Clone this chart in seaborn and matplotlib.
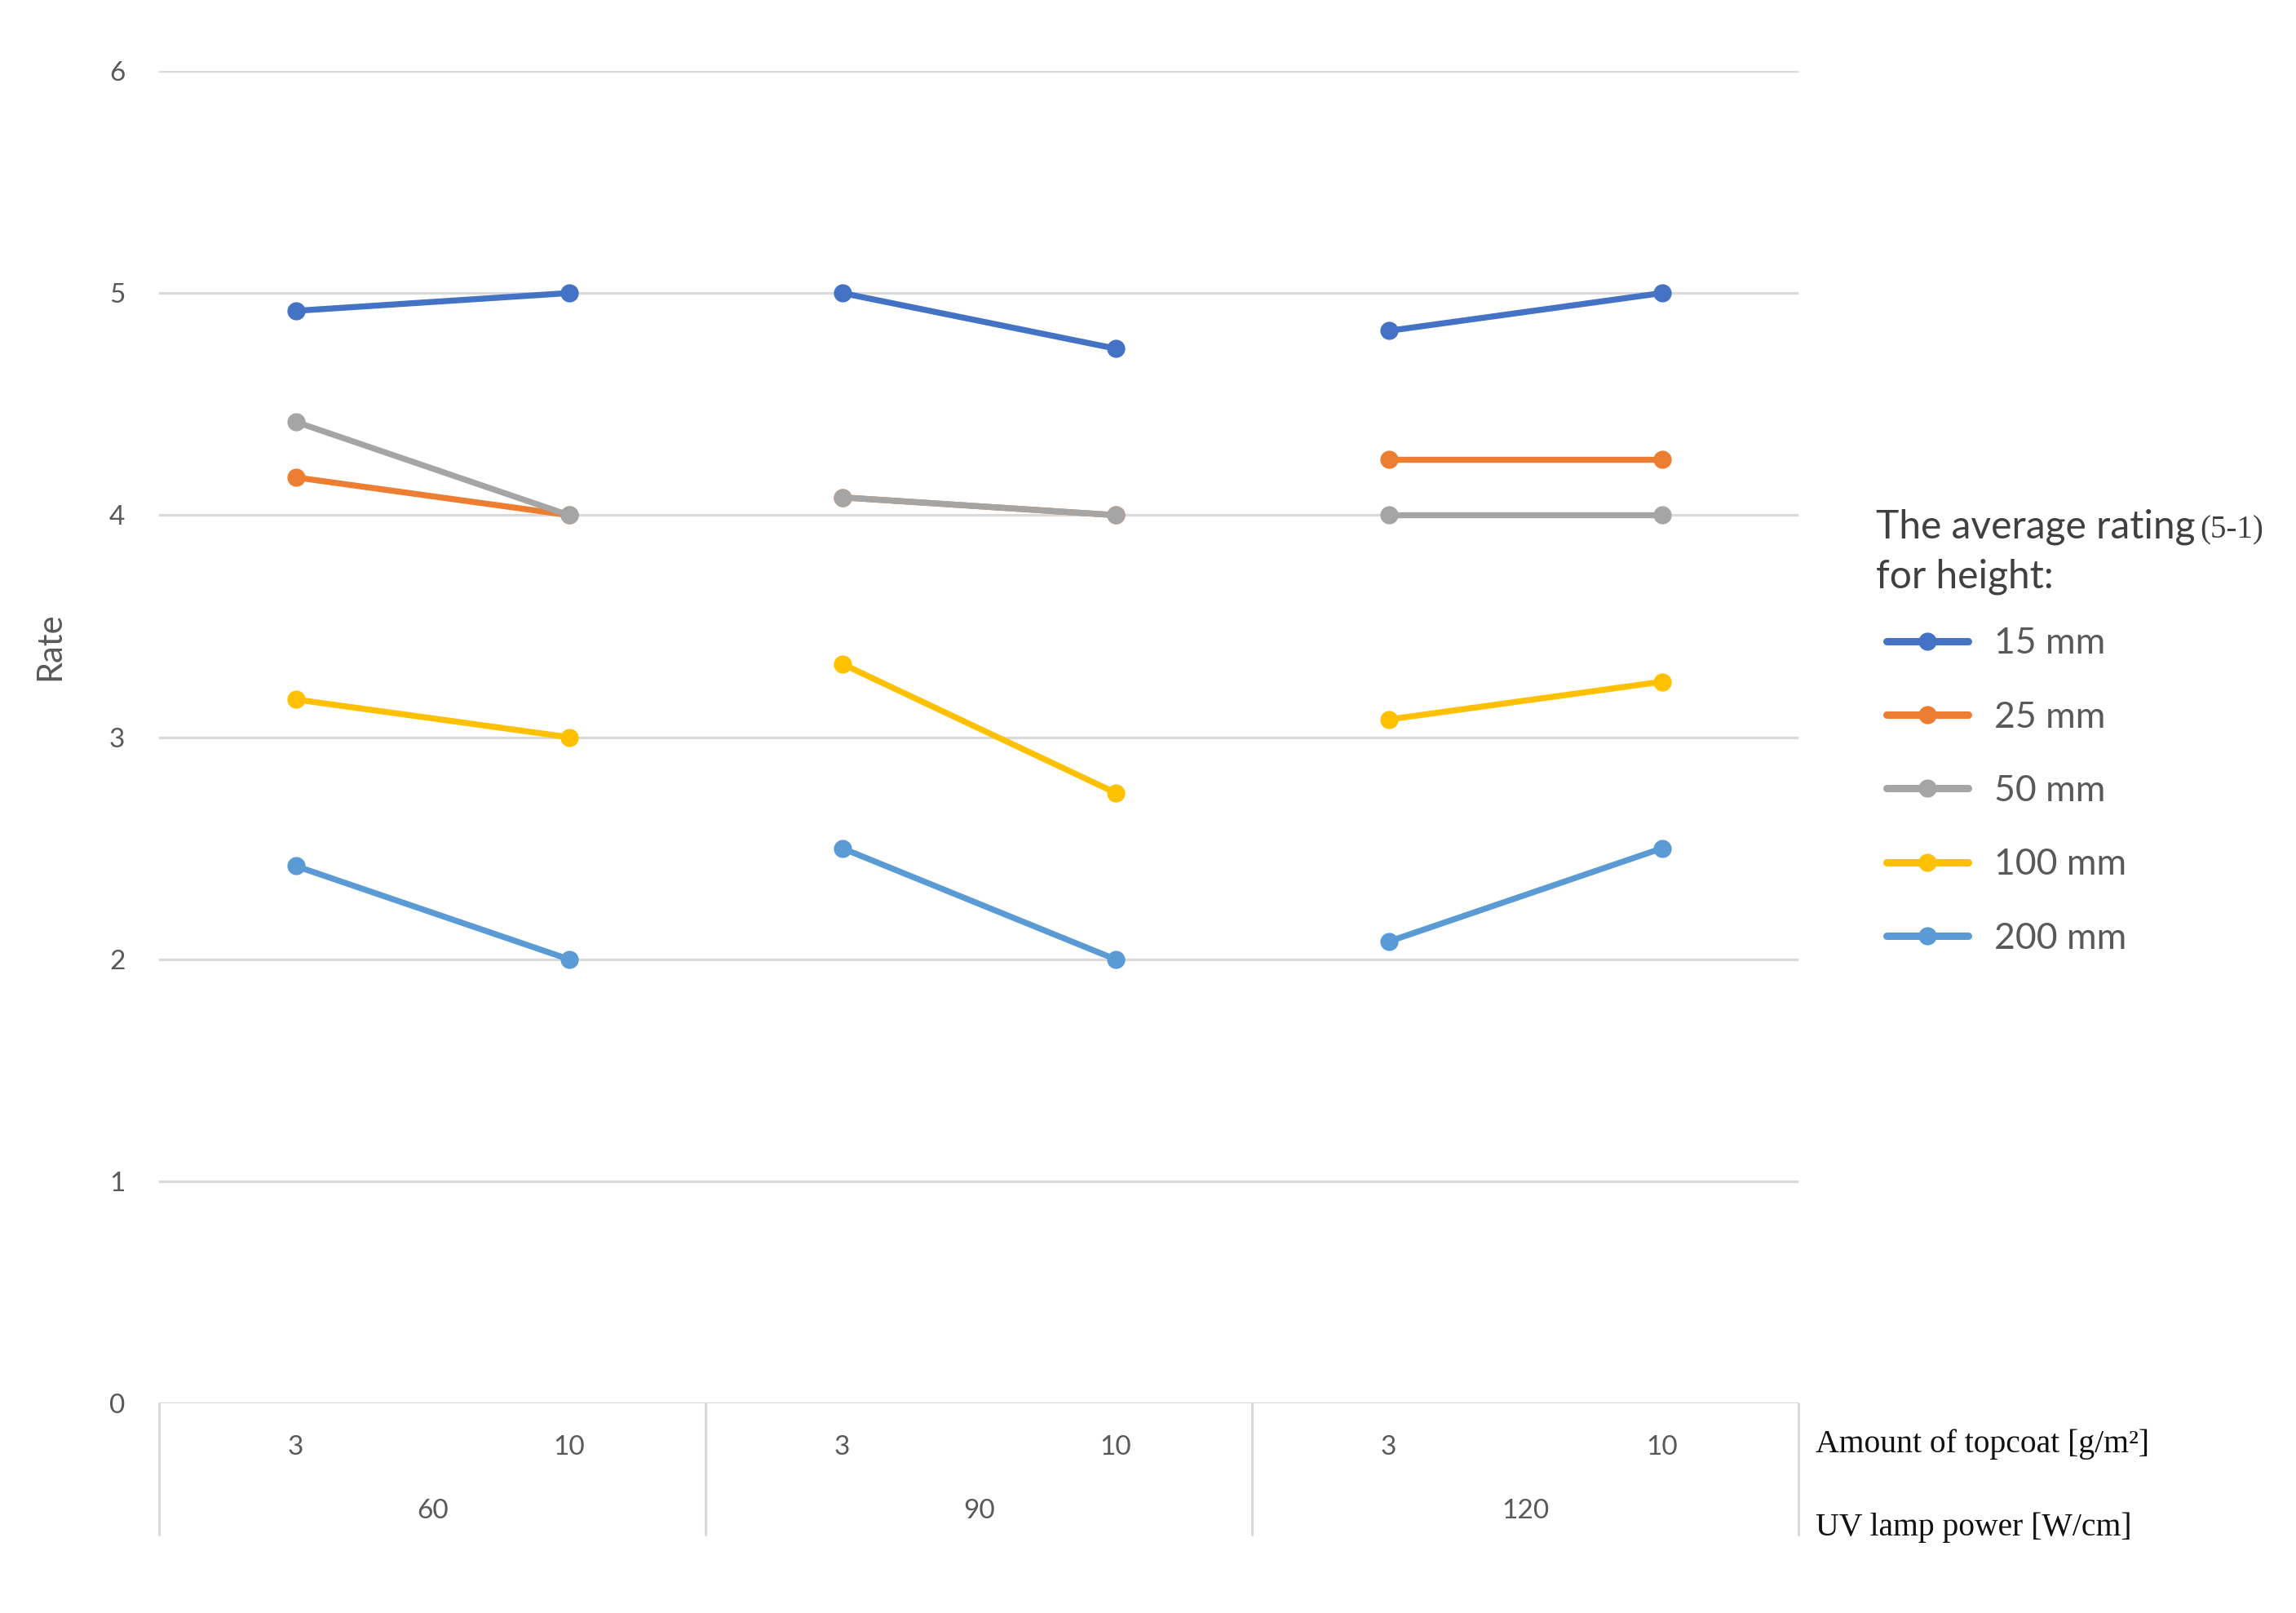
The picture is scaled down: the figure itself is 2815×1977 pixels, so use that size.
import pandas as pd
import matplotlib
matplotlib.use("Agg")
import matplotlib.pyplot as plt
import matplotlib.transforms as mtransforms
from matplotlib.lines import Line2D
import seaborn as sns

# data
uv_power = ["60", "90", "120"]          # UV lamp power [W/cm]
topcoat = ["3", "10"]                   # amount of topcoat [g/m2]
heights = ["15 mm", "25 mm", "50 mm", "100 mm", "200 mm"]

rate_15 = [4.92, 5.00, 5.00, 4.75, 4.83, 5.00]
rate_25 = [4.17, 4.00, 4.08, 4.00, 4.25, 4.25]
rate_50 = [4.42, 4.00, 4.08, 4.00, 4.00, 4.00]
rate_100 = [3.17, 3.00, 3.33, 2.75, 3.08, 3.25]
rate_200 = [2.42, 2.00, 2.50, 2.00, 2.08, 2.50]

colors = ["#4472C4", "#ED7D31", "#A5A5A5", "#FFC000", "#5B9BD5"]

# long table for seaborn
rows = []
for h, vals in zip(heights, [rate_15, rate_25, rate_50, rate_100, rate_200]):
    for i, v in enumerate(vals):
        g, c = divmod(i, len(topcoat))
        rows.append({"height": h, "power": uv_power[g], "coat": topcoat[c],
                     "pos": i, "rate": v})
df = pd.DataFrame(rows)

sns.set_style("white")
plt.rcParams["font.family"] = ["Lato", "DejaVu Sans"]

W, H = 2815, 1977
fig = plt.figure(figsize=(W / 100, H / 100), dpi=100)
ax = fig.add_axes([0.0693, 0.1299, 0.7141, 0.8261])

sns.lineplot(data=df, x="pos", y="rate", hue="height", units="power",
             estimator=None, palette=colors, hue_order=heights,
             marker="o", markersize=16, markeredgewidth=0, linewidth=5.3,
             legend=False, ax=ax, zorder=3)

n = len(df["pos"].unique())
ax.set_xlim(-0.5, n - 0.5)
ax.set_ylim(0, 6)
ax.set_yticks(range(0, 7))
ax.yaxis.grid(True, color="#D9D9D9", linewidth=2.2)
ax.set_axisbelow(True)
for s in ax.spines.values():
    s.set_visible(False)
ax.tick_params(axis="y", length=0, pad=30, labelsize=24, labelcolor="#595959")
ax.set_xticks([])
ax.set_xlabel("")
ax.set_ylabel("Rate", fontsize=30, color="#595959")
ax.yaxis.set_label_coords(-0.057, 0.568)

# category axis (two levels) drawn under the plot
trans = mtransforms.blended_transform_factory(ax.transData, ax.transAxes)
for b in range(len(uv_power) + 1):
    xb = b * len(topcoat) - 0.5
    ax.plot([xb, xb], [0, -0.0987], transform=trans, color="#D9D9D9",
            linewidth=2.2, clip_on=False)
for i in range(n):
    g, c = divmod(i, len(topcoat))
    ax.text(i, -0.033, topcoat[c], transform=trans, ha="center", va="center",
            fontsize=24, color="#595959")
for g, p in enumerate(uv_power):
    xc = g * len(topcoat) + (len(topcoat) - 1) / 2
    ax.text(xc, -0.081, p, transform=trans, ha="center", va="center",
            fontsize=24, color="#595959")

serif = ["Liberation Serif", "DejaVu Serif"]
fig.text(2226 / W, 1 - 1770 / H, "Amount of topcoat [g/m\u00b2]",
         ha="left", va="center", fontsize=28.5, family=serif, color="#111111")
fig.text(2226 / W, 1 - 1872 / H, "UV lamp power [W/cm]",
         ha="left", va="center", fontsize=28.5, family=serif, color="#111111")

# legend title, with the smaller serif "(5-1)"
t1 = fig.text(2300 / W, 1 - 646 / H, "The average rating", ha="left",
              va="center", fontsize=34.5, color="#404040")
fig.canvas.draw()
bb = t1.get_window_extent(fig.canvas.get_renderer())
fig.text(bb.x1 / W + 6 / W, 1 - 650 / H, "(5-1)", ha="left", va="center",
         fontsize=28, family=serif, color="#404040")
fig.text(2300 / W, 1 - 707 / H, "for height:", ha="left", va="center",
         fontsize=34.5, color="#404040")

handles = [Line2D([0], [0], color=c, linewidth=6.5, marker="o", markersize=16,
                  markeredgewidth=0) for c in colors]
leg = fig.legend(handles, heights, loc="upper left",
                 bbox_to_anchor=(2291 / W, 1 - 746 / H), frameon=False,
                 borderpad=0, fontsize=32, handlelength=2.25,
                 handletextpad=0.72, labelspacing=1.11)
for t in leg.get_texts():
    t.set_color("#595959")

fig.savefig("out.png", dpi=100, facecolor="white")
